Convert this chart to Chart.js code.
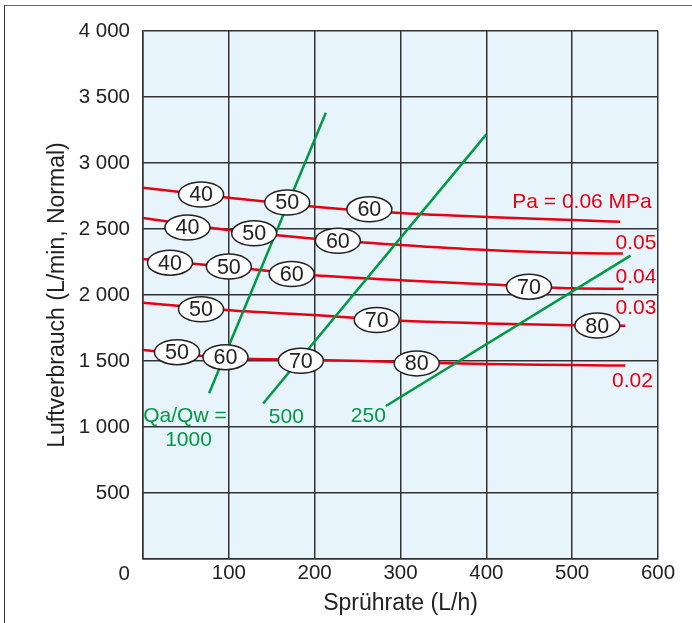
<!DOCTYPE html>
<html>
<head>
<meta charset="utf-8">
<script src="https://cdn.jsdelivr.net/npm/chart.js@4.4.1/dist/chart.umd.min.js"></script>
<style>
  body { margin: 0; background: #fff; }
  #wrap { position: relative; width: 692px; height: 623px; overflow: hidden; }
  #frame { position: absolute; left: 4px; top: 5px; width: 800px; height: 800px;
           border-left: 1.5px solid #333; border-top: 1.5px solid #666; }
  #myChart { position: absolute; left: 0; top: 0; }
</style>
</head>
<body>
<div id="wrap">
  <div id="frame"></div>
  <canvas id="myChart" width="692" height="623"></canvas>
</div>
<script>
// Sprührate (L/h) on x, Luftverbrauch (L/min, Normal) on y
const xTickLabels = ['0', '100', '200', '300', '400', '500', '600'];
const yTickLabels = ['0', '500', '1 000', '1 500', '2 000', '2 500', '3 000', '3 500', '4 000'];

// red curves, Pa in MPa
const pa06X = [0, 100, 200, 300, 400, 500, 556];
const pa06Y = [2813, 2737, 2669, 2621, 2591, 2568, 2555];
const pa05X = [0, 100, 200, 300, 400, 500, 559];
const pa05Y = [2583, 2492, 2426, 2379, 2341, 2318, 2314];
const pa04X = [0, 100, 200, 300, 400, 500, 560];
const pa04Y = [2273, 2212, 2149, 2112, 2081, 2051, 2047];
const pa03X = [0, 100, 200, 300, 400, 500, 562];
const pa03Y = [1942, 1884, 1848, 1805, 1785, 1770, 1767];
const pa02X = [0, 100, 200, 300, 400, 500, 562];
const pa02Y = [1583, 1522, 1508, 1492, 1477, 1470, 1465];

// green lines, Qa/Qw
const q1000X = [77, 213];
const q1000Y = [1255, 3381];
const q500X = [140, 400];
const q500Y = [1178, 3217];
const q250X = [283, 568];
const q250Y = [1159, 2298];

// oval markers on the curves
const ovalText = ['40', '50', '60', '40', '50', '60', '40', '50', '60', '70', '50', '70', '80', '50', '60', '70', '80'];
const ovalX = [67.7, 168, 263.7, 51.8, 129.5, 227, 31.5, 100, 173.2, 449.7, 67.6, 272.3, 529.3, 39.6, 96.1, 183.9, 318.9];
const ovalY = [2761, 2701, 2649, 2511, 2467, 2411, 2245, 2215, 2159, 2063, 1892, 1811, 1768, 1567, 1529, 1501, 1482];

// curve labels
const redText = ['Pa = 0.06 MPa', '0.05', '0.04', '0.03', '0.02'];
const redX = [511.5, 574.4, 574.4, 574.4, 570.3];
const redY = [2714, 2398, 2145, 1909, 1356];
const greenText = ['Qa/Qw =', '1000', '500', '250'];
const greenX = [48.9, 53, 167, 262.5];
const greenY = [1091, 907, 1085, 1091];

const RED = '#e60012';
const GREEN = '#009944';
const FONT = "'Liberation Sans', Arial, sans-serif";

function pts(xs, ys) {
    return xs.map((x, i) => ({x: x, y: ys[i]}));
}

function redSet(xs, ys) {
    return {
        data: pts(xs, ys),
        borderColor: RED,
        borderWidth: 2.5,
        showLine: true,
        pointRadius: 0,
        cubicInterpolationMode: 'monotone',
        fill: false
    };
}

function greenSet(xs, ys) {
    return {
        data: pts(xs, ys),
        borderColor: GREEN,
        borderWidth: 2.5,
        showLine: true,
        pointRadius: 0,
        fill: false
    };
}

const plotBg = {
    id: 'plotBg',
    beforeDraw(chart) {
        const {ctx, chartArea} = chart;
        ctx.save();
        ctx.fillStyle = '#e8f4fc';
        ctx.fillRect(chartArea.left, chartArea.top, chartArea.right - chartArea.left, chartArea.bottom - chartArea.top);
        ctx.restore();
    }
};

const marks = {
    id: 'marks',
    afterDatasetsDraw(chart) {
        const ctx = chart.ctx;
        const xs = chart.scales.x;
        const ys = chart.scales.y;
        ctx.save();
        ctx.textAlign = 'center';
        ctx.textBaseline = 'middle';

        ovalText.forEach((t, i) => {
            const px = xs.getPixelForValue(ovalX[i]);
            const py = ys.getPixelForValue(ovalY[i]);
            ctx.beginPath();
            ctx.ellipse(px, py, 22.5, 12.5, 0, 0, Math.PI * 2);
            ctx.fillStyle = '#fff';
            ctx.fill();
            ctx.lineWidth = 1.5;
            ctx.strokeStyle = '#222';
            ctx.stroke();
            ctx.fillStyle = '#222';
            ctx.font = '21.5px ' + FONT;
            ctx.fillText(t, px, py + 1);
        });

        ctx.font = '21px ' + FONT;
        ctx.fillStyle = RED;
        redText.forEach((t, i) => {
            ctx.fillText(t, xs.getPixelForValue(redX[i]), ys.getPixelForValue(redY[i]) + 1);
        });
        ctx.fillStyle = GREEN;
        greenText.forEach((t, i) => {
            ctx.fillText(t, xs.getPixelForValue(greenX[i]), ys.getPixelForValue(greenY[i]) + 1);
        });

        // shared corner label for both axes
        ctx.font = '20.5px ' + FONT;
        ctx.fillStyle = '#222';
        ctx.textAlign = 'right';
        ctx.fillText(xTickLabels[0], xs.left - 13, chart.chartArea.bottom + 15);
        ctx.restore();
    }
};

const ctx = document.getElementById('myChart').getContext('2d');
const myChart = new Chart(ctx, {
    type: 'scatter',
    data: {
        datasets: [
            greenSet(q1000X, q1000Y),
            greenSet(q500X, q500Y),
            greenSet(q250X, q250Y),
            redSet(pa06X, pa06Y),
            redSet(pa05X, pa05Y),
            redSet(pa04X, pa04Y),
            redSet(pa03X, pa03Y),
            redSet(pa02X, pa02Y)
        ]
    },
    options: {
        responsive: false,
        animation: false,
        layout: {
            padding: {left: 0, top: 31, right: 34, bottom: 0}
        },
        scales: {
            x: {
                type: 'linear',
                min: 0,
                max: 600,
                afterFit: function(scale) { scale.height = 64; },
                ticks: {
                    stepSize: 100,
                    padding: 2,
                    color: '#222',
                    font: {family: FONT, size: 20.5},
                    callback: (v, i) => i === 0 ? '' : xTickLabels[i]
                },
                grid: {color: '#333', lineWidth: 1.5, drawTicks: false},
                border: {color: '#333', width: 1.5},
                title: {
                    display: true,
                    text: 'Sprührate (L/h)',
                    color: '#222',
                    font: {family: FONT, size: 23},
                    padding: {top: 0, bottom: 6}
                }
            },
            y: {
                min: 0,
                max: 4000,
                afterFit: function(scale) { scale.width = 143; },
                ticks: {
                    stepSize: 500,
                    padding: 13,
                    color: '#222',
                    font: {family: FONT, size: 20.5},
                    callback: (v, i) => i === 0 ? '' : yTickLabels[i]
                },
                grid: {color: '#333', lineWidth: 1.5, drawTicks: false},
                border: {color: '#333', width: 1.5},
                title: {
                    display: true,
                    text: 'Luftverbrauch (L/min, Normal)',
                    color: '#222',
                    font: {family: FONT, size: 23},
                    padding: {top: 44, bottom: 0}
                }
            }
        },
        plugins: {
            legend: {display: false},
            tooltip: {enabled: false}
        }
    },
    plugins: [plotBg, marks]
});
</script>
</body>
</html>
